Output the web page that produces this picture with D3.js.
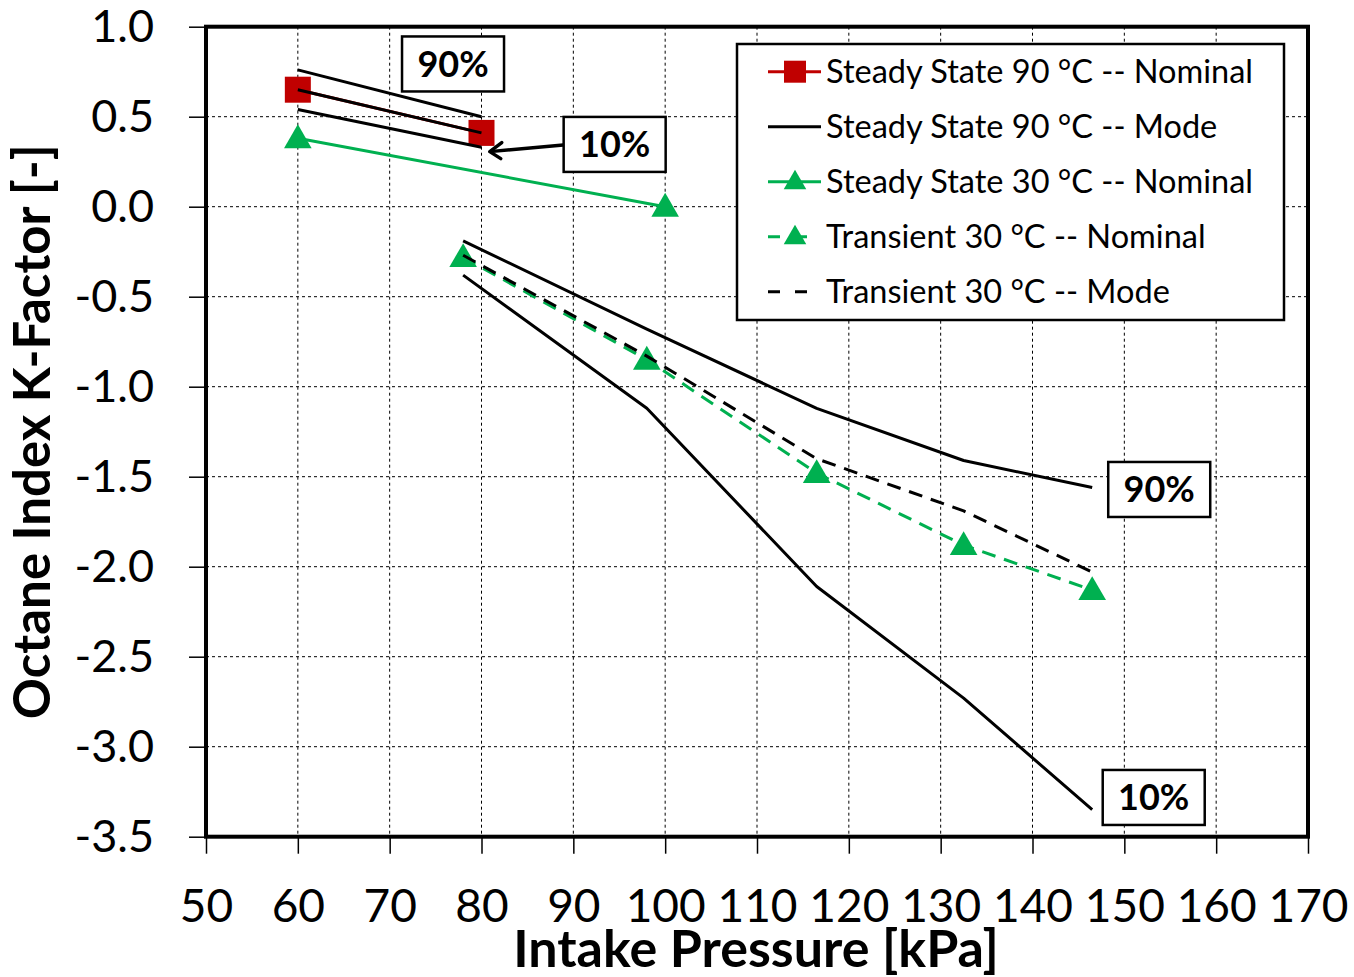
<!DOCTYPE html>
<html>
<head>
<meta charset="utf-8">
<script src="https://cdn.jsdelivr.net/npm/d3@7"></script>
<style>
  html, body { margin: 0; padding: 0; background: #fff; }
  svg { display: block; font-family: Lato, "Open Sans", sans-serif; }
</style>
</head>
<body>
<svg id="chart" width="1354" height="977"></svg>
<script>
// Intake pressure [kPa] for each test set
const pressureSS90 = [60, 80];
const pressureSS30 = [60, 100];
const pressureTr = [78, 98, 116.5, 132.5, 146.5];

// Octane index K-factor values
const ss90Nominal = [0.65, 0.41];
const ss90Mode = [0.65, 0.41];
const ss90P90 = [0.76, 0.50];
const ss90P10 = [0.54, 0.33];
const ss30Nominal = [0.38, 0.0];
const trNominal = [-0.28, -0.85, -1.48, -1.88, -2.13];
const trMode = [-0.27, -0.83, -1.40, -1.69, -2.03];
const trP90 = [-0.19, -0.68, -1.12, -1.41, -1.56];
const trP10 = [-0.38, -1.12, -2.11, -2.73, -3.35];

// Axis ticks
const xTicks = [50, 60, 70, 80, 90, 100, 110, 120, 130, 140, 150, 160, 170];
const yTicks = [1.0, 0.5, 0.0, -0.5, -1.0, -1.5, -2.0, -2.5, -3.0, -3.5];

// Legend entries
const legendLabels = [
  "Steady State 90 °C -- Nominal",
  "Steady State 90 °C -- Mode",
  "Steady State 30 °C -- Nominal",
  "Transient 30 °C -- Nominal",
  "Transient 30 °C -- Mode"
];

// Percentile annotations: [label, x, y]
const annotations = [
  ["90%", 76.9, 0.793],
  ["10%", 94.5, 0.346],
  ["90%", 153.8, -1.571],
  ["10%", 153.2, -3.282]
];

const RED = "#C00000", GREEN = "#00B050";
const svg = d3.select("#chart");
const L = 206, R = 1308, T = 26.7, B = 836.7;

const x = d3.scaleLinear().domain([50, 170]).range([L, R]);
const y = d3.scaleLinear().domain([-3.5, 1.0]).range([B, T]);

// Grid
const grid = svg.append("g");
grid.selectAll("line.v").data(xTicks.slice(1, -1)).join("line")
  .attr("x1", d => x(d)).attr("x2", d => x(d)).attr("y1", T).attr("y2", B)
  .attr("stroke", "#000").attr("stroke-width", 1).attr("stroke-dasharray", "3,3");
grid.selectAll("line.h").data(yTicks.slice(1, -1)).join("line")
  .attr("y1", d => y(d)).attr("y2", d => y(d)).attr("x1", L).attr("x2", R)
  .attr("stroke", "#000").attr("stroke-width", 1).attr("stroke-dasharray", "3,3");

// Axes
const fmtY = d => d3.format(".1f")(d).replace("\u2212", "-");
const xAxis = svg.append("g").attr("transform", `translate(0,${B})`)
  .call(d3.axisBottom(x).tickValues(xTicks).tickSize(17).tickPadding(36).tickFormat(d3.format("d")));
const yAxis = svg.append("g").attr("transform", `translate(${L},0)`)
  .call(d3.axisLeft(y).tickValues(yTicks).tickSize(17).tickFormat(fmtY));
[xAxis, yAxis].forEach(a => {
  a.select(".domain").remove();
  a.selectAll(".tick line").attr("stroke", "#000").attr("stroke-width", 1.5);
  a.selectAll("text").attr("fill", "#000").attr("font-family", "Lato, sans-serif");
});
xAxis.selectAll("text").attr("font-size", 46);
yAxis.selectAll("text").attr("font-size", 45).attr("text-anchor", "end").attr("x", 154 - L);

// Plot frame
svg.append("rect").attr("x", L).attr("y", T).attr("width", R - L).attr("height", B - T)
  .attr("fill", "none").attr("stroke", "#000").attr("stroke-width", 4);

// Axis titles
svg.append("text").attr("x", (L + R) / 2 - 1).attr("y", 967).attr("text-anchor", "middle")
  .attr("font-size", 52).attr("font-weight", 700).text("Intake Pressure [kPa]");
svg.append("text").attr("transform", `translate(50,${(T + B) / 2}) rotate(-90)`)
  .attr("text-anchor", "middle").attr("font-size", 51).attr("font-weight", 700)
  .text("Octane Index K-Factor [-]");

const line = d3.line().x(d => x(d[0])).y(d => y(d[1]));
const zip = (xs, ys) => xs.map((v, i) => [v, ys[i]]);

function drawLine(xs, ys, color, dash) {
  svg.append("path").datum(zip(xs, ys)).attr("d", line)
    .attr("fill", "none").attr("stroke", color).attr("stroke-width", 3)
    .attr("stroke-dasharray", dash || null).attr("stroke-linejoin", "round");
}
const tri = d3.symbol().type(d3.symbolTriangle).size(330);
function drawTriangles(xs, ys) {
  svg.append("g").selectAll("path").data(zip(xs, ys)).join("path")
    .attr("d", tri).attr("transform", d => `translate(${x(d[0])},${y(d[1]) + 2})`)
    .attr("fill", GREEN);
}

// Steady state 90 °C nominal
drawLine(pressureSS90, ss90Nominal, RED);
svg.append("g").selectAll("rect").data(zip(pressureSS90, ss90Nominal)).join("rect")
  .attr("x", d => x(d[0]) - 13).attr("y", d => y(d[1]) - 13)
  .attr("width", 26).attr("height", 26).attr("fill", RED);
// Steady state 90 °C mode with 90% / 10% bounds
drawLine(pressureSS90, ss90P90, "#000");
drawLine(pressureSS90, ss90Mode, "#000");
drawLine(pressureSS90, ss90P10, "#000");
// Steady state 30 °C nominal
drawLine(pressureSS30, ss30Nominal, GREEN);
drawTriangles(pressureSS30, ss30Nominal);
// Transient 30 °C nominal
drawLine(pressureTr, trNominal, GREEN, "14,9");
drawTriangles(pressureTr, trNominal);
// Transient 30 °C mode with 90% / 10% bounds
drawLine(pressureTr, trMode, "#000", "14,9");
drawLine(pressureTr, trP90, "#000");
drawLine(pressureTr, trP10, "#000");

// Percentile label boxes
const ann = svg.append("g").selectAll("g").data(annotations).join("g")
  .attr("transform", d => `translate(${x(d[1])},${y(d[2])})`);
ann.append("rect").attr("x", -51).attr("y", -27.5).attr("width", 102).attr("height", 55)
  .attr("fill", "#fff").attr("stroke", "#000").attr("stroke-width", 2.5);
ann.append("text").attr("text-anchor", "middle").attr("y", 13)
  .attr("font-size", 36).attr("font-weight", 700).text(d => d[0]);

// Arrow from the 10% box to the end of the lower bound line
const tip = [x(80.9), y(0.306)];
const tail = [x(88.9), y(0.343)];
svg.append("line").attr("x1", tail[0]).attr("y1", tail[1]).attr("x2", tip[0]).attr("y2", tip[1])
  .attr("stroke", "#000").attr("stroke-width", 3.5);
svg.append("path")
  .attr("d", `M${tip[0] + 12},${tip[1] - 9} L${tip[0]},${tip[1]} L${tip[0] + 11},${tip[1] + 7}`)
  .attr("fill", "none").attr("stroke", "#000").attr("stroke-width", 3.5)
  .attr("stroke-linecap", "round").attr("stroke-linejoin", "round");

// Legend
const lg = svg.append("g");
lg.append("rect").attr("x", 737).attr("y", 44).attr("width", 547).attr("height", 276)
  .attr("fill", "#fff").attr("stroke", "#000").attr("stroke-width", 2.5);
const rowY = i => 71.7 + i * 55;
legendLabels.forEach((lab, i) => {
  lg.append("text").attr("x", 826).attr("y", rowY(i) + 11.5).attr("font-size", 32.5).text(lab);
});
// row samples
lg.append("line").attr("x1", 768).attr("x2", 821).attr("y1", rowY(0)).attr("y2", rowY(0))
  .attr("stroke", RED).attr("stroke-width", 3);
lg.append("rect").attr("x", 784).attr("y", rowY(0) - 11).attr("width", 22).attr("height", 22).attr("fill", RED);
lg.append("line").attr("x1", 768).attr("x2", 821).attr("y1", rowY(1)).attr("y2", rowY(1))
  .attr("stroke", "#000").attr("stroke-width", 3);
lg.append("line").attr("x1", 768).attr("x2", 821).attr("y1", rowY(2)).attr("y2", rowY(2))
  .attr("stroke", GREEN).attr("stroke-width", 3);
const triS = d3.symbol().type(d3.symbolTriangle).size(220);
lg.append("path").attr("d", triS).attr("transform", `translate(795,${rowY(2) + 1})`).attr("fill", GREEN);
lg.append("line").attr("x1", 768).attr("x2", 809).attr("y1", rowY(3)).attr("y2", rowY(3))
  .attr("stroke", GREEN).attr("stroke-width", 3).attr("stroke-dasharray", "12,15");
lg.append("path").attr("d", triS).attr("transform", `translate(795,${rowY(3) + 1})`).attr("fill", GREEN);
lg.append("line").attr("x1", 768).attr("x2", 809).attr("y1", rowY(4)).attr("y2", rowY(4))
  .attr("stroke", "#000").attr("stroke-width", 3).attr("stroke-dasharray", "12,15");
</script>
</body>
</html>
